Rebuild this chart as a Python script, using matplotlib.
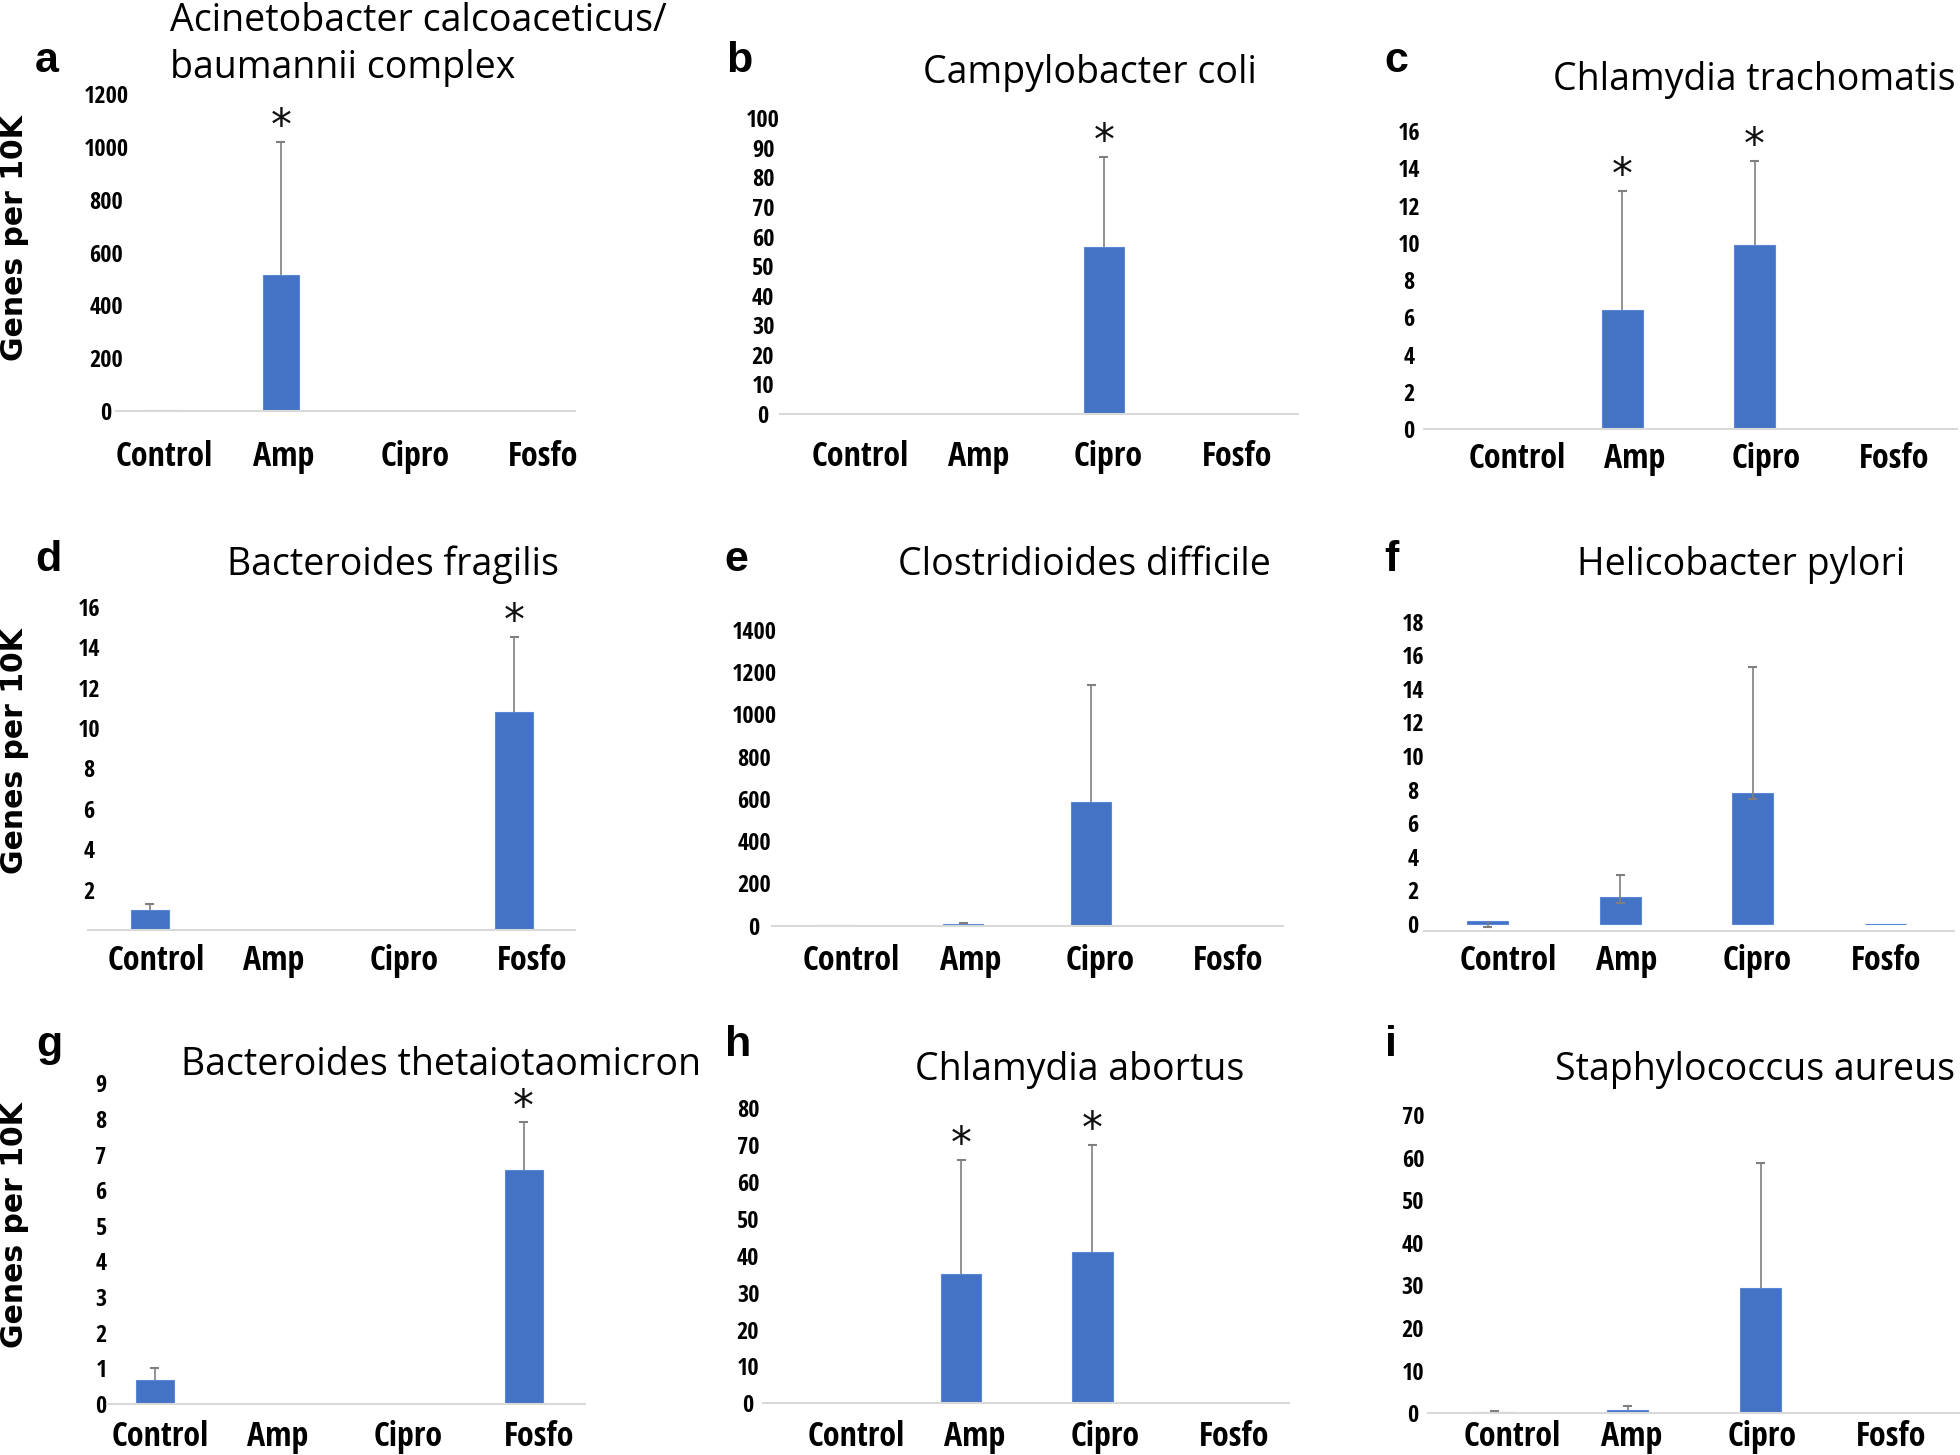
import matplotlib
matplotlib.use("Agg")
import matplotlib.pyplot as plt

W, H = 1960, 1455

groups = ['Control', 'Amp', 'Cipro', 'Fosfo']

# values (genes per 10K), error = upper SD bar
a_mean = [2, 513, 0, 0]
a_err = [0, 507, 0, 0]
a_star = [0, 1, 0, 0]

b_mean = [0, 0, 56.4, 0]
b_err = [0, 0, 30.6, 0]
b_star = [0, 0, 1, 0]

c_mean = [0, 6.4, 9.9, 0]
c_err = [0, 6.4, 4.5, 0]
c_star = [0, 1, 1, 0]

d_mean = [1.0, 0, 0, 10.8]
d_err = [0.3, 0, 0, 3.7]
d_star = [0, 0, 0, 1]

e_mean = [4, 6, 584, 0]
e_err = [0, 8, 554, 0]
e_star = [0, 0, 0, 0]

f_mean = [0.2, 1.6, 7.8, 0]
f_err = [0, 1.3, 7.5, 0]
f_err_lo = [0.4, 0.35, 0.35, 0]
f_star = [0, 0, 0, 0]

g_mean = [0.67, 0, 0, 6.57]
g_err = [0.35, 0, 0, 1.33]
g_star = [0, 0, 0, 1]

h_mean = [0, 35, 41, 0]
h_err = [0, 31, 29, 0]
h_star = [0, 1, 1, 0]

i_mean = [0.3, 0.8, 29.3, 0]
i_err = [0.2, 0.9, 29.4, 0]
i_star = [0, 0, 0, 0]

titles = {
    'a': ['Acinetobacter calcoaceticus/', 'baumannii complex'],
    'b': ['Campylobacter coli'],
    'c': ['Chlamydia trachomatis'],
    'd': ['Bacteroides fragilis'],
    'e': ['Clostridioides difficile'],
    'f': ['Helicobacter pylori'],
    'g': ['Bacteroides thetaiotaomicron'],
    'h': ['Chlamydia abortus'],
    'i': ['Staphylococcus aureus'],
}

# layout in pixels: axes box (left, right, baseline, top), tick label column centre,
# x label centres and height, title (x, baselines, align), panel letter (x, baseline)
layout = {
    'a': dict(box=(116, 575, 410.7, 94.3), ylim=(0, 1200), xlim=(-0.4, 3.5),
              yt=range(0, 1201, 200), lc=106, xl=[164, 284, 415, 543], xly=453,
              title=(170, [31, 78], 'left'), letter=(47, 72)),
    'b': dict(box=(780, 1298, 414, 118.3), ylim=(0, 100), xlim=(-0.5, 3.5),
              yt=range(0, 101, 10), lc=763, xl=[860, 979, 1108, 1237], xly=453,
              title=(1090, [83], 'center'), letter=(739, 72)),
    'c': dict(box=(1424, 1957, 429, 131), ylim=(0, 16), xlim=(-0.5, 3.53),
              yt=range(0, 17, 2), lc=1409, xl=[1517, 1635, 1766, 1894], xly=455,
              title=(1553, [90], 'left'), letter=(1396, 72)),
    'd': dict(box=(88, 575, 930, 606.7), ylim=(0, 16), xlim=(-0.51, 3.5),
              yt=range(2, 17, 2), lc=89, xl=[156, 274, 404, 532], xly=957,
              title=(393, [575], 'center'), letter=(48, 571)),
    'e': dict(box=(771.5, 1283, 925.7, 630), ylim=(0, 1400), xlim=(-0.5, 3.5),
              yt=range(0, 1401, 200), lc=754, xl=[851, 971, 1100, 1228], xly=957,
              title=(1084, [575], 'center'), letter=(736, 571)),
    'f': dict(box=(1424, 1954, 930.7, 621.7), ylim=(-0.4, 18), xlim=(-0.48, 3.52),
              yt=range(0, 19, 2), lc=1413, xl=[1508, 1627, 1757, 1886], xly=957,
              title=(1741, [575], 'center'), letter=(1391, 571)),
    'g': dict(box=(107, 585, 1404, 1083.3), ylim=(0, 9), xlim=(-0.39, 3.5),
              yt=range(0, 10, 1), lc=101, xl=[160, 278, 408, 539], xly=1433,
              title=(181, [1075], 'left'), letter=(49, 1056)),
    'h': dict(box=(763, 1289, 1403.3, 1108.3), ylim=(0, 80), xlim=(-0.51, 3.5),
              yt=range(0, 81, 10), lc=748, xl=[856, 975, 1105, 1234], xly=1433,
              title=(1080, [1080], 'center'), letter=(738, 1056)),
    'i': dict(box=(1428, 1960, 1413.3, 1115), ylim=(0, 70), xlim=(-0.5, 3.5),
              yt=range(0, 71, 10), lc=1413, xl=[1512, 1632, 1762, 1891], xly=1433,
              title=(1555, [1080], 'left'), letter=(1391, 1056)),
}

data = {
    'a': (a_mean, a_err, None, a_star), 'b': (b_mean, b_err, None, b_star),
    'c': (c_mean, c_err, None, c_star), 'd': (d_mean, d_err, None, d_star),
    'e': (e_mean, e_err, None, e_star), 'f': (f_mean, f_err, f_err_lo, f_star),
    'g': (g_mean, g_err, None, g_star), 'h': (h_mean, h_err, None, h_star),
    'i': (i_mean, i_err, None, i_star),
}

NARROW = ['Open Sans Condensed', 'PT Sans Narrow', 'DejaVu Sans']
TITLE = ['Open Sans', 'DejaVu Sans']
LETTER = ['Liberation Sans', 'DejaVu Sans']
BLUE = '#4472C4'
GREY = '#7f7f7f'
PX = 0.72  # points per pixel at dpi 100

fig = plt.figure(figsize=(W / 100, H / 100), dpi=100)
fig.patch.set_facecolor('white')

for key in 'abcdefghi':
    L = layout[key]
    mean, err, err_lo, star = data[key]
    left, right, base, top = L['box']
    ax = fig.add_axes([left / W, 1 - base / H, (right - left) / W, (base - top) / H])
    ax.set_xlim(*L['xlim'])
    ax.set_ylim(*L['ylim'])
    x = list(range(len(groups)))
    ax.bar(x, mean, width=0.31, color=BLUE, edgecolor='#5b87d6', linewidth=0.8, zorder=2)

    # error bars: line plus small cap at the outer end only
    span = L['xlim'][1] - L['xlim'][0]
    cap = 4.5 / (right - left) * span
    lo = err_lo if err_lo else [0] * len(groups)
    for k in x:
        if err[k] > 0 or lo[k] > 0:
            ax.vlines(k, mean[k] - lo[k], mean[k] + err[k], color=GREY, lw=1.2, zorder=3)
        if err[k] > 0:
            ax.hlines(mean[k] + err[k], k - cap, k + cap, color=GREY, lw=1.5, zorder=3)
        if lo[k] > 0:
            ax.hlines(mean[k] - lo[k], k - cap, k + cap, color=GREY, lw=1.5, zorder=3)
        if star[k]:
            ax.annotate('*', xy=(k, mean[k] + err[k]), xytext=(0, 2),
                        textcoords='offset points', ha='center', va='baseline',
                        fontsize=30, color='#111111')

    for side in ['top', 'right', 'left']:
        ax.spines[side].set_visible(False)
    ax.spines['bottom'].set_color('#d9d9d9')
    ax.spines['bottom'].set_linewidth(1.5)

    ax.set_yticks(list(L['yt']))
    ax.set_yticklabels([str(v) for v in L['yt']], family=NARROW,
                       fontweight='bold', fontsize=17.5)
    for lab in ax.get_yticklabels():
        lab.set_horizontalalignment('center')
    ax.tick_params(axis='y', length=0, pad=(left - L['lc']) * PX)

    xt = [L['xlim'][0] + (p - left) / (right - left) * span for p in L['xl']]
    ax.set_xticks(xt)
    ax.set_xticklabels(groups, family=NARROW, fontweight='bold', fontsize=24.5)
    ax.tick_params(axis='x', length=0, pad=(L['xly'] - base - 13) * PX)

    tx, tys, ta = L['title']
    for line, ty in zip(titles[key], tys):
        fig.text(tx / W, 1 - ty / H, line, ha=ta, va='baseline',
                 fontsize=27, family=TITLE)
    lx, ly = L['letter']
    fig.text(lx / W, 1 - ly / H, key, ha='center', va='baseline',
             fontsize=31, fontweight='bold', family=LETTER)

for cy in [238, 751, 1225]:
    fig.text(15 / W, 1 - cy / H, 'Genes per 10K', rotation=90, ha='center',
             va='center', fontsize=21.5, fontweight='bold', family='DejaVu Sans')

fig.savefig('out.png', dpi=100, facecolor='white')
